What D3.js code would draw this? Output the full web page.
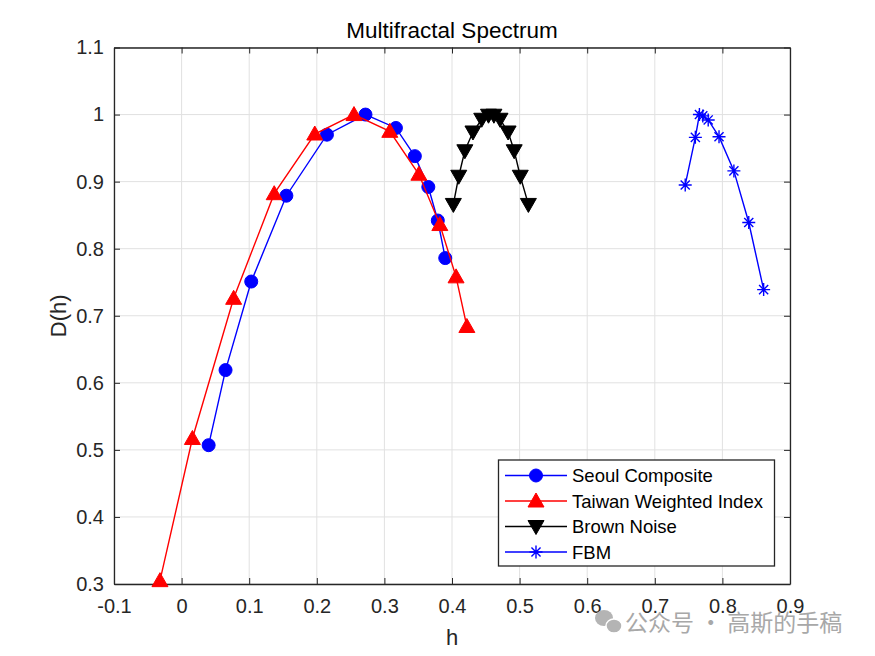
<!DOCTYPE html>
<html>
<head>
<meta charset="UTF-8">
<title>Multifractal Spectrum</title>
<script src="https://cdn.jsdelivr.net/npm/d3@7"></script>
<style>
  body { margin: 0; background: #fff; }
  text { font-family: Arial, "Liberation Sans", sans-serif; }
</style>
</head>
<body>
<div id="chart"></div>
<script>
// values
var seoulH = [0.040, 0.065, 0.103, 0.155, 0.215, 0.272, 0.317, 0.345, 0.365, 0.379, 0.390];
var seoulD = [0.507, 0.619, 0.751, 0.879, 0.970, 1.000, 0.980, 0.938, 0.892, 0.842, 0.786];

var taiwanH = [-0.032, 0.016, 0.077, 0.137, 0.197, 0.255, 0.308, 0.351, 0.382, 0.406, 0.422];
var taiwanD = [0.305, 0.517, 0.726, 0.882, 0.971, 1.000, 0.975, 0.911, 0.836, 0.758, 0.684];

var brownH = [0.402, 0.410, 0.419, 0.431, 0.444, 0.454, 0.462, 0.471, 0.483, 0.492, 0.501, 0.513];
var brownD = [0.866, 0.908, 0.946, 0.974, 0.993, 0.999, 0.999, 0.993, 0.974, 0.946, 0.908, 0.866];

var fbmH = [0.745, 0.760, 0.766, 0.771, 0.779, 0.795, 0.817, 0.839, 0.861];
var fbmD = [0.895, 0.966, 1.000, 0.998, 0.992, 0.967, 0.916, 0.839, 0.739];

var xTicks = [-0.1, 0, 0.1, 0.2, 0.3, 0.4, 0.5, 0.6, 0.7, 0.8, 0.9];
var yTicks = [0.3, 0.4, 0.5, 0.6, 0.7, 0.8, 0.9, 1, 1.1];

var seriesNames = ["Seoul Composite", "Taiwan Weighted Index", "Brown Noise", "FBM"];

var series = [
  { name: seriesNames[0], h: seoulH, d: seoulD, color: "#0000ff", marker: "circle" },
  { name: seriesNames[1], h: taiwanH, d: taiwanD, color: "#ff0000", marker: "triangleUp" },
  { name: seriesNames[2], h: brownH, d: brownD, color: "#000000", marker: "triangleDown" },
  { name: seriesNames[3], h: fbmH, d: fbmD, color: "#0000ff", marker: "asterisk" }
];

var W = 875, H = 656;
var mLeft = 114, mRight = 790, mTop = 47.5, mBottom = 584;
var axisColor = "#262626";

var svg = d3.select("#chart").append("svg")
    .attr("width", W)
    .attr("height", H);

var x = d3.scaleLinear().domain([-0.1, 0.9]).range([mLeft, mRight]);
var y = d3.scaleLinear().domain([0.3, 1.1]).range([mBottom, mTop]);

// grid
svg.append("g").selectAll("line")
    .data(xTicks).enter().append("line")
    .attr("x1", function(d) { return x(d); })
    .attr("x2", function(d) { return x(d); })
    .attr("y1", mTop).attr("y2", mBottom)
    .style("stroke", "#e1e1e1").style("stroke-width", 1);

svg.append("g").selectAll("line")
    .data(yTicks).enter().append("line")
    .attr("y1", function(d) { return y(d); })
    .attr("y2", function(d) { return y(d); })
    .attr("x1", mLeft).attr("x2", mRight)
    .style("stroke", "#e1e1e1").style("stroke-width", 1);

// axes (ticks inward, box on) - plain hyphen minus like matlab
var fmt = function(d) { return String(+d.toFixed(1)); };

var xAxis = svg.append("g")
    .attr("transform", "translate(0," + mBottom + ")")
    .call(d3.axisBottom(x).tickValues(xTicks).tickSizeInner(-6).tickSizeOuter(0).tickPadding(14).tickFormat(fmt));
var xAxisTop = svg.append("g")
    .attr("transform", "translate(0," + mTop + ")")
    .call(d3.axisTop(x).tickValues(xTicks).tickSizeInner(-6).tickSizeOuter(0).tickFormat(""));
var yAxis = svg.append("g")
    .attr("transform", "translate(" + mLeft + ",0)")
    .call(d3.axisLeft(y).tickValues(yTicks).tickSizeInner(-6).tickSizeOuter(0).tickPadding(14).tickFormat(fmt));
var yAxisRight = svg.append("g")
    .attr("transform", "translate(" + mRight + ",0)")
    .call(d3.axisRight(y).tickValues(yTicks).tickSizeInner(-6).tickSizeOuter(0).tickFormat(""));

[xAxis, xAxisTop, yAxis, yAxisRight].forEach(function(a) {
  a.selectAll("path").style("stroke", axisColor).style("stroke-width", 1.3);
  a.selectAll("line").style("stroke", axisColor).style("stroke-width", 1);
  a.selectAll("text")
      .style("font-family", "Arial, 'Liberation Sans', sans-serif")
      .style("font-size", "20px")
      .style("fill", axisColor);
});
xAxis.selectAll("text").attr("dy", "0.72em").attr("y", 15);
yAxis.selectAll("text").attr("x", -10);

// markers
function drawMarker(g, type, color, cx, cy) {
  if (type === "circle") {
    g.append("circle").attr("cx", cx).attr("cy", cy).attr("r", 6.5)
        .style("fill", color).style("stroke", color);
  } else if (type === "triangleUp") {
    var s = 8;
    g.append("path")
        .attr("d", "M" + cx + "," + (cy - s) + "L" + (cx + s) + "," + (cy + s * 0.75) + "L" + (cx - s) + "," + (cy + s * 0.75) + "Z")
        .style("fill", color).style("stroke", color);
  } else if (type === "triangleDown") {
    var t = 8;
    g.append("path")
        .attr("d", "M" + cx + "," + (cy + t) + "L" + (cx + t) + "," + (cy - t * 0.75) + "L" + (cx - t) + "," + (cy - t * 0.75) + "Z")
        .style("fill", color).style("stroke", color);
  } else if (type === "asterisk") {
    var r = 6.5;
    var p = "M" + (cx - r) + "," + cy + "L" + (cx + r) + "," + cy +
            "M" + cx + "," + (cy - r) + "L" + cx + "," + (cy + r) +
            "M" + (cx - r * 0.7) + "," + (cy - r * 0.7) + "L" + (cx + r * 0.7) + "," + (cy + r * 0.7) +
            "M" + (cx - r * 0.7) + "," + (cy + r * 0.7) + "L" + (cx + r * 0.7) + "," + (cy - r * 0.7);
    g.append("path").attr("d", p).style("fill", "none").style("stroke", color).style("stroke-width", 1.4);
  }
}

var line = d3.line()
    .x(function(d) { return x(d[0]); })
    .y(function(d) { return y(d[1]); });

series.forEach(function(s) {
  var pts = s.h.map(function(h, i) { return [h, s.d[i]]; });
  var g = svg.append("g");
  g.append("path")
      .datum(pts)
      .attr("d", line)
      .style("fill", "none")
      .style("stroke", s.color)
      .style("stroke-width", 1.4);
  pts.forEach(function(p) { drawMarker(g, s.marker, s.color, x(p[0]), y(p[1])); });
});

// title and labels
svg.append("text")
    .attr("x", (mLeft + mRight) / 2).attr("y", 38)
    .attr("text-anchor", "middle")
    .style("font-size", "22.5px").style("fill", "#000")
    .text("Multifractal Spectrum");

svg.append("text")
    .attr("x", (mLeft + mRight) / 2).attr("y", 645)
    .attr("text-anchor", "middle")
    .style("font-size", "22px").style("fill", axisColor)
    .text("h");

svg.append("text")
    .attr("transform", "translate(66," + ((mTop + mBottom) / 2) + ") rotate(-90)")
    .attr("text-anchor", "middle")
    .style("font-size", "22px").style("fill", axisColor)
    .text("D(h)");

// legend
var lx = 498.5, ly = 460, lw = 276, lh = 106;
var leg = svg.append("g");
leg.append("rect")
    .attr("x", lx).attr("y", ly).attr("width", lw).attr("height", lh)
    .style("fill", "#fff").style("stroke", axisColor).style("stroke-width", 1.3);

series.forEach(function(s, i) {
  var yy = 475.5 + i * 25.5;
  leg.append("line")
      .attr("x1", 505).attr("x2", 567).attr("y1", yy).attr("y2", yy)
      .style("stroke", s.color).style("stroke-width", 1.4);
  drawMarker(leg, s.marker, s.color, 536, yy);
  leg.append("text")
      .attr("x", 572).attr("y", yy).attr("dy", "0.36em")
      .style("font-size", "18.5px").style("fill", "#000")
      .text(s.name);
});

// watermark
var wm = svg.append("g");
wm.append("ellipse").attr("cx", 604).attr("cy", 618).attr("rx", 9).attr("ry", 8).style("fill", "#b4b4b4");
wm.append("ellipse").attr("cx", 614).attr("cy", 626).attr("rx", 8).attr("ry", 7).style("fill", "#b4b4b4").style("stroke", "#fff").style("stroke-width", 1.5);
wm.append("text")
    .attr("x", 625).attr("y", 631)
    .style("font-family", "'Noto Sans CJK SC', sans-serif")
    .style("font-size", "23px").style("fill", "#a8a8a8")
    .text("公众号 · 高斯的手稿");
</script>
</body>
</html>
